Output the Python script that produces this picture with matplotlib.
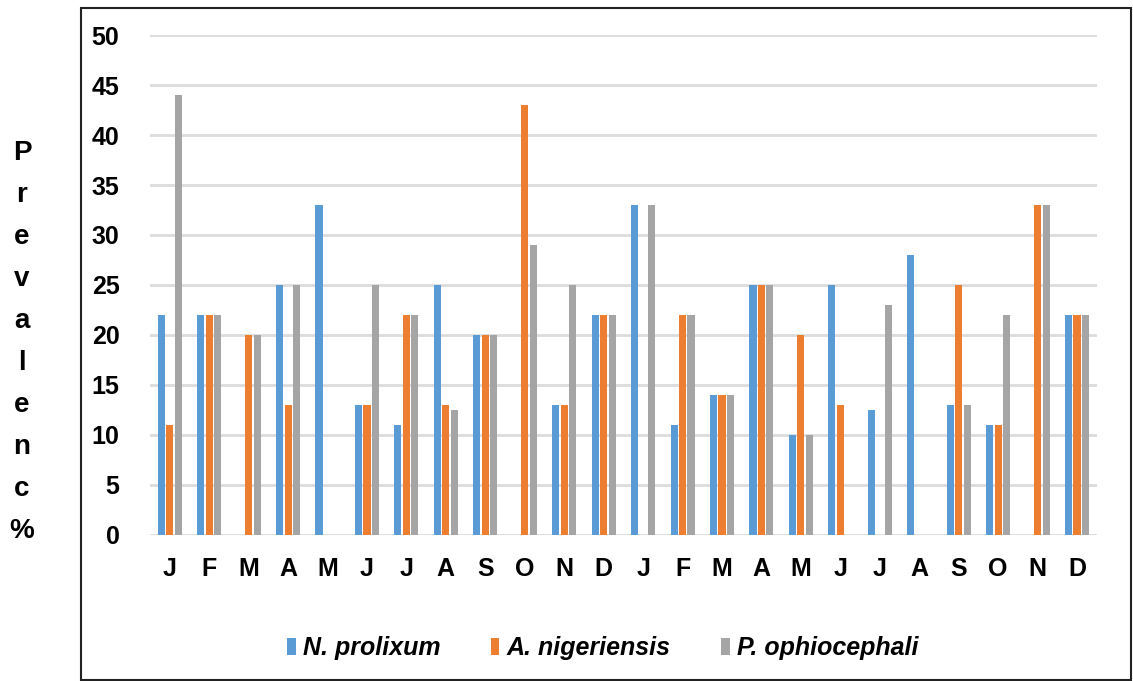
import numpy as np
import matplotlib.pyplot as plt
from matplotlib.patches import Rectangle

months = ["J", "F", "M", "A", "M", "J", "J", "A", "S", "O", "N", "D",
          "J", "F", "M", "A", "M", "J", "J", "A", "S", "O", "N", "D"]
n_prolixum = [22, 22, 0, 25, 33, 13, 11, 25, 20, 0, 13, 22,
              33, 11, 14, 25, 10, 25, 12.5, 28, 13, 11, 0, 22]
a_nigeriensis = [11, 22, 20, 13, 0, 13, 22, 13, 20, 43, 13, 22,
                 0, 22, 14, 25, 20, 13, 0, 0, 25, 11, 33, 22]
p_ophiocephali = [44, 22, 20, 25, 0, 25, 22, 12.5, 20, 29, 25, 22,
                  33, 22, 14, 25, 10, 0, 23, 0, 13, 22, 33, 22]
series = ["N. prolixum", "A. nigeriensis", "P. ophiocephali"]
colors = ["#5B9BD5", "#ED7D31", "#A5A5A5"]

plt.rcParams['font.family'] = ['Liberation Sans', 'DejaVu Sans']

fig = plt.figure(figsize=(11.33, 6.81), dpi=100)
ax = fig.add_axes([0.1324, 0.2144, 0.8356, 0.7342])

x = np.arange(len(months))
w = 0.18
step = 0.215
for i, (vals, name, c) in enumerate(zip([n_prolixum, a_nigeriensis, p_ophiocephali], series, colors)):
    ax.bar(x + (i - 1) * step, vals, width=w, color=c, label=name, zorder=3)

ax.set_xlim(-0.5, len(months) - 0.5)
ax.set_ylim(0, 50)
ax.set_yticks(range(0, 51, 5))
ax.set_xticks(x)
ax.set_xticklabels(months)
ax.grid(axis='y', color='#DCDCDC', linewidth=2, zorder=0)
for s in ax.spines.values():
    s.set_visible(False)
ax.tick_params(length=0)
ax.tick_params(axis='y', pad=22, labelsize=18)
ax.tick_params(axis='x', pad=16, labelsize=18)
for lbl in ax.get_xticklabels() + ax.get_yticklabels():
    lbl.set_fontweight('bold')

# stacked y label
fig.text(22 / 1133, 1 - 342 / 681, "\n".join("Prevalenc%"), ha='center', va='center',
         fontsize=20, fontweight='bold', linespacing=1.8)

leg = fig.legend(loc='center', bbox_to_anchor=(0.532, 1 - 648 / 681), ncol=3, frameon=False,
                 prop={'size': 18, 'weight': 'bold', 'style': 'italic'},
                 handlelength=0.35, handleheight=0.7, handletextpad=0.3, columnspacing=2.0)

# outer frame
fig.patches.append(Rectangle((81 / 1133, 1 / 681), 1050 / 1133, 672 / 681,
                             transform=fig.transFigure, fill=False,
                             edgecolor='#222222', linewidth=1.5))

fig.savefig("out.png", dpi=100)
